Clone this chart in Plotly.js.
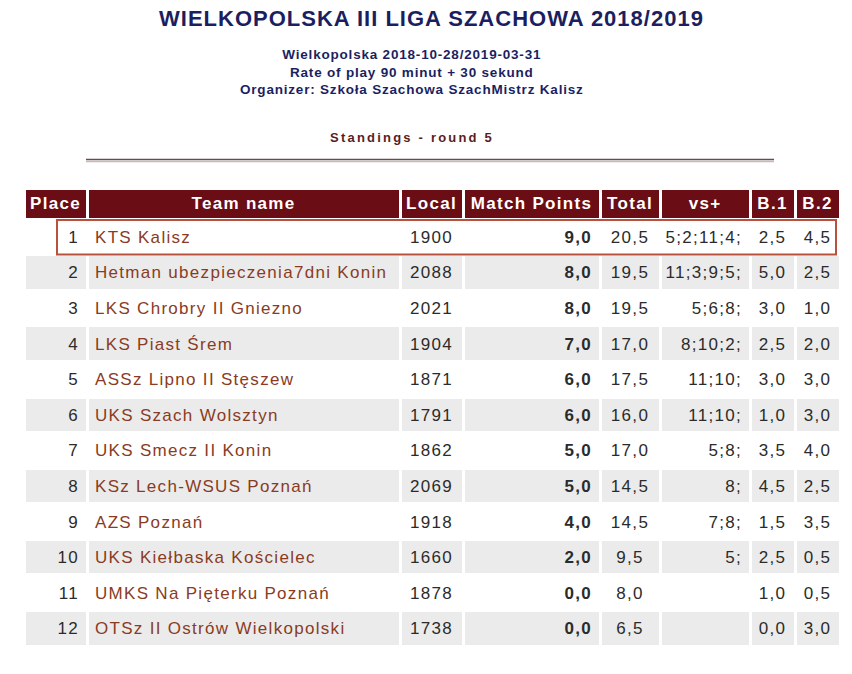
<!DOCTYPE html>
<html><head><meta charset="utf-8">
<script src="https://cdn.plot.ly/plotly-3.0.1.min.js"></script>
<style>
html,body{margin:0;padding:0;background:#fff;}
#chart{width:852px;height:674px;}
#chart .table text{letter-spacing:1.3px;}
#chart g.column-block:not(#header) text.cell-text{transform:translateY(3px);}
#chart g.annotation[data-index="0"] .annotation-text{letter-spacing:1px;}
#chart g.annotation[data-index="1"] .annotation-text{letter-spacing:0.8px;}
#chart g.annotation[data-index="2"] .annotation-text{letter-spacing:2.2px;}
</style>
</head><body><div id="chart"></div>
<script>
const headers = ["Place","Team name","Local","Match Points","Total","vs+","B.1","B.2"];
const places = [1,2,3,4,5,6,7,8,9,10,11,12];
const teams = ["KTS Kalisz","Hetman ubezpieczenia7dni Konin","LKS Chrobry II Gniezno","LKS Piast Śrem","ASSz Lipno II Stęszew","UKS Szach Wolsztyn","UKS Smecz II Konin","KSz Lech-WSUS Poznań","AZS Poznań","UKS Kiełbaska Kościelec","UMKS Na Pięterku Poznań","OTSz II Ostrów Wielkopolski"];
const localRating = [1900,2088,2021,1904,1871,1791,1862,2069,1918,1660,1878,1738];
const matchPoints = [9,8,8,7,6,6,5,5,4,2,0,0];
const totals = [20.5,19.5,19.5,17.0,17.5,16.0,17.0,14.5,14.5,9.5,8.0,6.5];
const vsPlus = ["5;2;11;4;","11;3;9;5;","5;6;8;","8;10;2;","11;10;","11;10;","5;8;","8;","7;8;","5;","",""];
const b1 = [2.5,5.0,3.0,2.5,3.0,1.0,3.5,4.5,1.5,2.5,1.0,0.0];
const b2 = [4.5,2.5,1.0,2.0,3.0,3.0,4.0,2.5,3.5,0.5,0.5,3.0];

const fmt = v => v.toFixed(1).replace('.', ',');
const nb = s => String(s).replace(/ /g, '\u00a0');
const W = 852, H = 674;
const tableLeft = 24, tableRight = 840, tableTop = 188;
const headerH = 31, rowH = 35.6;
const colWidths = [63,313,63,137,60,90,45,45];

const rowFill = places.map((p,i) => i % 2 === 0 ? '#ffffff' : '#ebebeb');
const fills = headers.map(() => rowFill);
const textCol = '#2b2b2b', linkCol = '#8a3b23';
const fam = 'Liberation Sans, Arial, sans-serif';

const trace = {
  type: 'table',
  domain: {x: [tableLeft/W, tableRight/W], y: [0, 1 - tableTop/H]},
  columnwidth: colWidths,
  header: {
    values: headers.map(nb),
    align: 'center',
    height: headerH,
    fill: {color: '#6b0d15'},
    line: {color: '#ffffff', width: 3},
    font: {family: fam, size: 17, color: '#ffffff', weight: 'bold'}
  },
  cells: {
    values: [
      places,
      teams.map(nb),
      localRating,
      matchPoints.map(fmt),
      totals.map(fmt),
      vsPlus,
      b1.map(fmt),
      b2.map(fmt)
    ],
    align: ['right','left','center','right','center','right','center','center'],
    height: rowH,
    fill: {color: fills},
    line: {color: '#ffffff', width: 3},
    font: {family: fam, size: 17,
           weight: ['normal','normal','normal','bold','normal','normal','normal','normal'],
           color: [textCol, linkCol, textCol, textCol, textCol, textCol, textCol, textCol]}
  }
};

const navy = '#1c1f5f';
const hl = {x0: 57, x1: 836, y0: tableTop + headerH + 1, y1: tableTop + headerH + rowH};
const layout = {
  width: W, height: H,
  margin: {l:0, r:0, t:0, b:0},
  paper_bgcolor: '#ffffff',
  showlegend: false,
  annotations: [
    {text: '<b>WIELKOPOLSKA III LIGA SZACHOWA 2018/2019</b>', x: 0.507, y: 1 - 18/H, xref:'paper', yref:'paper', yanchor:'middle', showarrow:false,
     font: {family: fam, size: 22, color: navy}},
    {text: '<b>Wielkopolska 2018-10-28/2019-03-31<br>Rate of play 90 minut + 30 sekund<br>Organizer: Szkoła Szachowa SzachMistrz Kalisz</b>',
     x: 0.483, y: 1 - 72/H, xref:'paper', yref:'paper', yanchor:'middle', showarrow:false,
     font: {family: fam, size: 13.5, color: navy}},
    {text: '<b>Standings - round 5</b>', x: 0.483, y: 1 - 138/H, xref:'paper', yref:'paper', yanchor:'middle', showarrow:false,
     font: {family: fam, size: 13, color: '#5c1c1c'}}
  ],
  shapes: [
    {type:'line', xref:'paper', yref:'paper', x0: 86/W, x1: 774/W, y0: 1-159.5/H, y1: 1-159.5/H, line:{color:'#6a4a4a', width:1.5}},
    {type:'line', xref:'paper', yref:'paper', x0: 86/W, x1: 774/W, y0: 1-161.5/H, y1: 1-161.5/H, line:{color:'#c8b8b8', width:1.5}},
    {type:'rect', xref:'paper', yref:'paper', x0: hl.x0/W, x1: hl.x1/W, y0: 1-hl.y1/H, y1: 1-hl.y0/H, line:{color:'#b9523c', width:2}, fillcolor:'rgba(0,0,0,0)', layer:'above'}
  ]
};
Plotly.newPlot('chart', [trace], layout, {displayModeBar:false, staticPlot:true});
</script>
</body></html>
